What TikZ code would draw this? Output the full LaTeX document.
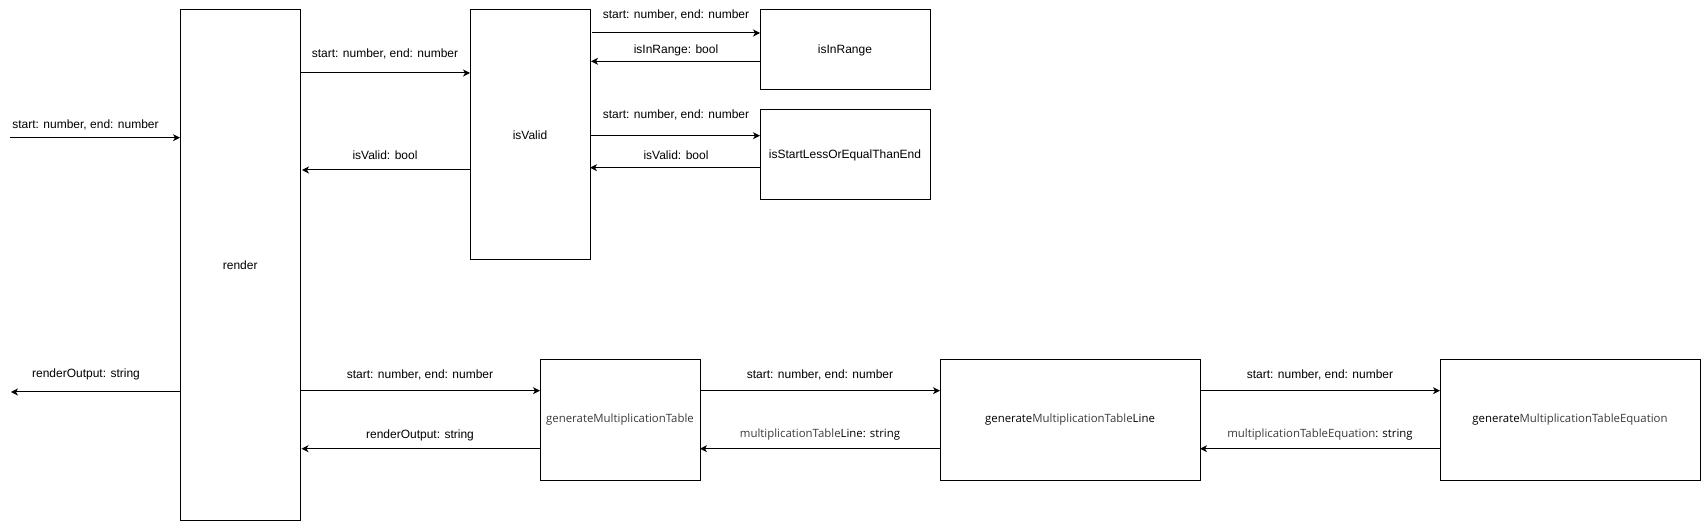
\documentclass[tikz,border=0pt]{standalone}
\usepackage{fontspec}
\setmainfont{Liberation Sans}
\newfontfamily\segoe{Open Sans}
\usetikzlibrary{arrows.meta}
\definecolor{txtgray}{HTML}{3A3A3A}
\tikzset{
  box/.style={draw=black, line width=1pt, inner sep=0pt, outer sep=0pt, align=center, font=\fontsize{12}{14}\selectfont},
  arr/.style={draw=black, line width=1pt, -{Stealth[length=7pt,width=7pt,inset=2pt]}},
  lbl/.style={font=\fontsize{12}{14}\selectfont, inner sep=0pt},
  slbl/.style={font=\segoe\fontsize{11.4}{13}\selectfont, inner sep=0pt},
}
\begin{document}
\begin{tikzpicture}[x=1pt,y=-1pt]
\useasboundingbox (0,0) rectangle (1701,521);
% boxes
\node[box, minimum width=120.5pt, minimum height=510pt] (render) at (240.25,265) {render};
\node[box, minimum width=120pt, minimum height=250pt] (isValid) at (530,135) {isValid};
\node[box, minimum width=170pt, minimum height=80pt] (isInRange) at (845,50) {isInRange};
\node[box, minimum width=170pt, minimum height=90pt] (isStart) at (845,155) {isStartLessOrEqualThanEnd};
\node[box, minimum width=160pt, minimum height=120pt, font=\segoe\fontsize{11.4}{13}\selectfont, text=txtgray] (gMT) at (620,420) {generateMultiplicationTable};
\node[box, minimum width=260pt, minimum height=120pt, font=\segoe\fontsize{11.4}{13}\selectfont] (gMTL) at (1070,420) {generate\textcolor{txtgray}{MultiplicationTable}Line};
\node[box, minimum width=260pt, minimum height=120pt, font=\segoe\fontsize{11.4}{13}\selectfont] (gMTE) at (1570,420) {generate\textcolor{txtgray}{MultiplicationTableEquation}};
\coordinate (inStart) at (10,137.7);
\coordinate (outEnd) at (11,392);
% top connectors
\draw[arr] (inStart) -- (render.west |- inStart);
\node[lbl] (l1) at (85.5,125) {start: number, end: number};
\draw[arr] (render.east |- 0,73) -- (isValid.west |- 0,73);
\node[lbl] (l2) at (385,54) {start: number, end: number};
\draw[arr] (isValid.west |- 0,170) -- ([xshift=1.5pt]render.east |- 0,170);
\node[lbl] (l3) at (385,155) {isValid: bool};
\draw[arr] ([xshift=1.5pt]isValid.east |- 0,33) -- (isInRange.west |- 0,33);
\node[lbl] (l4) at (676,15) {start: number, end: number};
\draw[arr] (isInRange.west |- 0,61.3) -- ([xshift=1pt]isValid.east |- 0,61.3);
\node[lbl] (l5) at (676,50) {isInRange: bool};
\draw[arr] (isValid.east |- 0,135.7) -- (isStart.west |- 0,135.7);
\node[lbl] (l6) at (676,114.5) {start: number, end: number};
\draw[arr] (isStart.west |- 0,167.7) -- (isValid.east |- 0,167.7);
\node[lbl] (l7) at (676,155) {isValid: bool};
% bottom connectors
\draw[arr] (render.west |- outEnd) -- (outEnd);
\node[lbl] (l8) at (86,374) {renderOutput: string};
\draw[arr] (render.east |- 0,390.7) -- (gMT.west |- 0,390.7);
\node[lbl] (l9) at (420,374.5) {start: number, end: number};
\draw[arr] (gMT.west |- 0,448.7) -- ([xshift=1pt]render.east |- 0,448.7);
\node[lbl] (l10) at (420,435) {renderOutput: string};
\draw[arr] (gMT.east |- 0,390.7) -- (gMTL.west |- 0,390.7);
\node[lbl] (l11) at (820,374.5) {start: number, end: number};
\draw[arr] (gMTL.west |- 0,448.7) -- (gMT.east |- 0,448.7);
\node[slbl] (l12) at (820,435) {\textcolor{txtgray}{multiplicationTable}Line: string};
\draw[arr] (gMTL.east |- 0,390.7) -- (gMTE.west |- 0,390.7);
\node[lbl] (l13) at (1320,374.5) {start: number, end: number};
\draw[arr] (gMTE.west |- 0,448.7) -- (gMTL.east |- 0,448.7);
\node[slbl] (l14) at (1320,435) {\textcolor{txtgray}{multiplicationTableEquation}: string};
\end{tikzpicture}
\end{document}
